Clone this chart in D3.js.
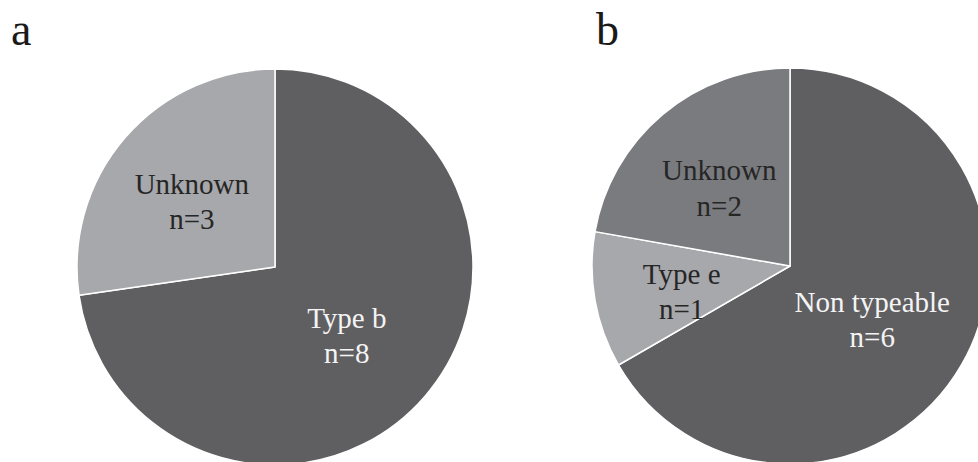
<!DOCTYPE html>
<html>
<head>
<meta charset="utf-8">
<script src="https://cdn.jsdelivr.net/npm/d3@7"></script>
<style>
  html, body { margin: 0; padding: 0; background: #fff; }
  svg { display: block; }
</style>
</head>
<body>
<div id="chart-area"></div>
<script>
// Panel data
const panelLetters = ["a", "b"];
const categoriesA = ["Type b", "Unknown"];
const valuesA = [8, 3];
const colorsA = ["#5f5f62", "#a7a8ab"];
const textColorsA = ["#f4f4f4", "#262626"];

const categoriesB = ["Non typeable", "Type e", "Unknown"];
const valuesB = [6, 1, 2];
const colorsB = ["#5f5f62", "#a7a8ab", "#7a7b7f"];
const textColorsB = ["#f4f4f4", "#262626", "#262626"];

const chartWidth = 978, chartHeight = 462;
const radius = 198;
const serif = "'Liberation Serif', 'Times New Roman', serif";

const svg = d3.select("#chart-area").append("svg")
  .attr("width", chartWidth)
  .attr("height", chartHeight);

const pie = d3.pie().sort(null).value(d => d.value);
const arc = d3.arc().innerRadius(0).outerRadius(radius);
// big slices get their label pulled nearer the centre, like the office chart does
const smallLabelArc = d3.arc().innerRadius(110).outerRadius(110);
const bigLabelArc = d3.arc().innerRadius(95).outerRadius(95);
const labelPos = d => (d.endAngle - d.startAngle > Math.PI ? bigLabelArc : smallLabelArc).centroid(d);

function drawPie(cx, cy, letter, letterX, cats, vals, cols, txtCols) {
  const rows = cats.map((c, i) => ({ name: c, value: vals[i], color: cols[i], text: txtCols[i] }));

  svg.append("text")
    .attr("x", letterX)
    .attr("y", 45)
    .attr("font-family", serif)
    .style("font-size", "46px")
    .style("fill", "#1a1a1a")
    .text(letter);

  const g = svg.append("g").attr("transform", `translate(${cx},${cy})`);

  g.selectAll("path")
    .data(pie(rows))
    .join("path")
      .attr("d", arc)
      .attr("fill", d => d.data.color)
      .attr("stroke", "#fff")
      .attr("stroke-width", 1.5)
      .attr("stroke-linejoin", "round");

  const labels = g.selectAll("text.lbl")
    .data(pie(rows))
    .join("text")
      .attr("class", "lbl")
      .attr("transform", d => `translate(${labelPos(d)})`)
      .attr("text-anchor", "middle")
      .attr("font-family", serif)
      .style("font-size", "29px")
      .style("fill", d => d.data.text);

  labels.append("tspan").attr("x", 0).attr("dy", "-0.05em").text(d => d.data.name);
  labels.append("tspan").attr("x", 0).attr("dy", "1.22em").text(d => "n=" + d.data.value);
}

drawPie(275, 267, panelLetters[0], 11, categoriesA, valuesA, colorsA, textColorsA);
drawPie(790, 266, panelLetters[1], 596, categoriesB, valuesB, colorsB, textColorsB);
</script>
</body>
</html>
